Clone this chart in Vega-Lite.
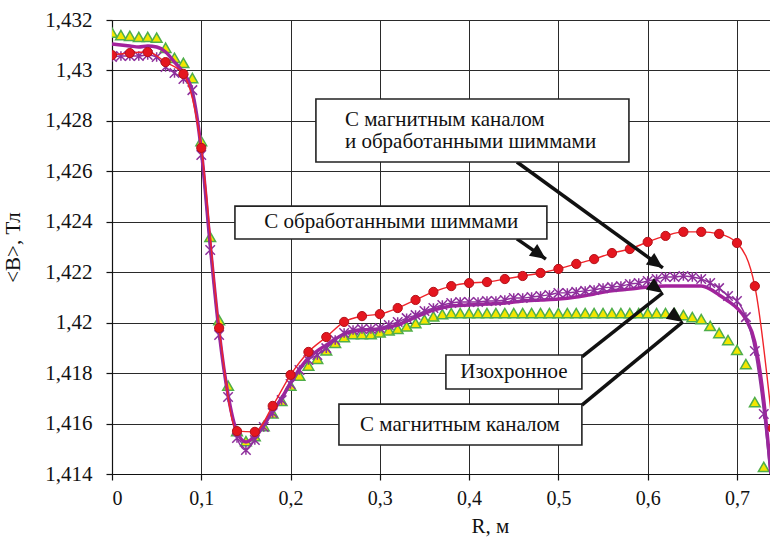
{
  "$schema": "https://vega.github.io/schema/vega-lite/v6.json",
  "autosize": {"type": "none"},
  "padding": {"left": 112, "top": 20, "right": 0, "bottom": 68},
  "width": 658,
  "height": 454,
  "background": "white",
  "config": {
    "view": {"stroke": null},
    "font": "Liberation Serif",
    "axis": {
      "labelFont": "Liberation Serif",
      "titleFont": "Liberation Serif",
      "labelFontSize": 21,
      "titleFontSize": 21,
      "titleFontWeight": "normal",
      "labelColor": "#111",
      "titleColor": "#111",
      "grid": true,
      "gridColor": "#2a2a2a",
      "gridWidth": 1,
      "domainColor": "#111",
      "domainWidth": 1.2,
      "tickColor": "#111",
      "tickSize": 6,
      "tickWidth": 1.2
    }
  },
  "datasets": {
    "shims": [
      {"r": 0.00, "b": 1.43061}, {"r": 0.02, "b": 1.43069}, {"r": 0.04, "b": 1.43073},
      {"r": 0.06, "b": 1.43033}, {"r": 0.08, "b": 1.42986}, {"r": 0.10, "b": 1.42693},
      {"r": 0.12, "b": 1.41979}, {"r": 0.14, "b": 1.41570}, {"r": 0.16, "b": 1.41567},
      {"r": 0.18, "b": 1.41670}, {"r": 0.20, "b": 1.41793}, {"r": 0.22, "b": 1.41884},
      {"r": 0.24, "b": 1.41943}, {"r": 0.26, "b": 1.42003}, {"r": 0.28, "b": 1.42026},
      {"r": 0.30, "b": 1.42034}, {"r": 0.32, "b": 1.42058}, {"r": 0.34, "b": 1.42090},
      {"r": 0.36, "b": 1.42122}, {"r": 0.38, "b": 1.42145}, {"r": 0.40, "b": 1.42157},
      {"r": 0.42, "b": 1.42161}, {"r": 0.44, "b": 1.42173}, {"r": 0.46, "b": 1.42185},
      {"r": 0.48, "b": 1.42197}, {"r": 0.50, "b": 1.42213}, {"r": 0.52, "b": 1.42233},
      {"r": 0.54, "b": 1.42252}, {"r": 0.56, "b": 1.42276}, {"r": 0.58, "b": 1.42292},
      {"r": 0.60, "b": 1.42320}, {"r": 0.62, "b": 1.42344}, {"r": 0.64, "b": 1.42360},
      {"r": 0.66, "b": 1.42360}, {"r": 0.68, "b": 1.42352}, {"r": 0.70, "b": 1.42316},
      {"r": 0.72, "b": 1.42145}, {"r": 0.74, "b": 1.41582}
    ],
    "channel": [
      {"r": 0.00, "b": 1.43150}, {"r": 0.01, "b": 1.43140}, {"r": 0.02, "b": 1.43137},
      {"r": 0.03, "b": 1.43133}, {"r": 0.04, "b": 1.43133}, {"r": 0.05, "b": 1.43130},
      {"r": 0.06, "b": 1.43090}, {"r": 0.07, "b": 1.43050}, {"r": 0.08, "b": 1.43030},
      {"r": 0.09, "b": 1.42970}, {"r": 0.10, "b": 1.42720}, {"r": 0.11, "b": 1.42340},
      {"r": 0.12, "b": 1.42010}, {"r": 0.13, "b": 1.41750}, {"r": 0.14, "b": 1.41570},
      {"r": 0.15, "b": 1.41530}, {"r": 0.16, "b": 1.41550}, {"r": 0.17, "b": 1.41590},
      {"r": 0.18, "b": 1.41640}, {"r": 0.19, "b": 1.41690}, {"r": 0.20, "b": 1.41750},
      {"r": 0.21, "b": 1.41790}, {"r": 0.22, "b": 1.41830}, {"r": 0.23, "b": 1.41857},
      {"r": 0.24, "b": 1.41890}, {"r": 0.25, "b": 1.41920}, {"r": 0.26, "b": 1.41943},
      {"r": 0.27, "b": 1.41955}, {"r": 0.28, "b": 1.41955}, {"r": 0.29, "b": 1.41955},
      {"r": 0.30, "b": 1.41962}, {"r": 0.31, "b": 1.41970}, {"r": 0.32, "b": 1.41975},
      {"r": 0.33, "b": 1.41985}, {"r": 0.34, "b": 1.41998}, {"r": 0.35, "b": 1.42012},
      {"r": 0.36, "b": 1.42025}, {"r": 0.37, "b": 1.42034}, {"r": 0.38, "b": 1.42038},
      {"r": 0.39, "b": 1.42038}, {"r": 0.40, "b": 1.42038}, {"r": 0.41, "b": 1.42038},
      {"r": 0.42, "b": 1.42038}, {"r": 0.43, "b": 1.42038}, {"r": 0.44, "b": 1.42038},
      {"r": 0.45, "b": 1.42038}, {"r": 0.46, "b": 1.42038}, {"r": 0.47, "b": 1.42038},
      {"r": 0.48, "b": 1.42038}, {"r": 0.49, "b": 1.42038}, {"r": 0.50, "b": 1.42038},
      {"r": 0.51, "b": 1.42038}, {"r": 0.52, "b": 1.42038}, {"r": 0.53, "b": 1.42038},
      {"r": 0.54, "b": 1.42038}, {"r": 0.55, "b": 1.42038}, {"r": 0.56, "b": 1.42038},
      {"r": 0.57, "b": 1.42038}, {"r": 0.58, "b": 1.42038}, {"r": 0.59, "b": 1.42038},
      {"r": 0.60, "b": 1.42038}, {"r": 0.61, "b": 1.42038}, {"r": 0.62, "b": 1.42038},
      {"r": 0.63, "b": 1.42038}, {"r": 0.64, "b": 1.42030}, {"r": 0.65, "b": 1.42022},
      {"r": 0.66, "b": 1.42014}, {"r": 0.67, "b": 1.41987}, {"r": 0.68, "b": 1.41959},
      {"r": 0.69, "b": 1.41931}, {"r": 0.70, "b": 1.41892}, {"r": 0.71, "b": 1.41836},
      {"r": 0.72, "b": 1.41685}, {"r": 0.73, "b": 1.41428}
    ],
    "both": [
      {"r": 0.00, "b": 1.43053}, {"r": 0.01, "b": 1.43057}, {"r": 0.02, "b": 1.43057},
      {"r": 0.03, "b": 1.43057}, {"r": 0.04, "b": 1.43061}, {"r": 0.05, "b": 1.43053},
      {"r": 0.06, "b": 1.43014}, {"r": 0.07, "b": 1.42990}, {"r": 0.08, "b": 1.42966},
      {"r": 0.09, "b": 1.42922}, {"r": 0.10, "b": 1.42665}, {"r": 0.11, "b": 1.42288},
      {"r": 0.12, "b": 1.41951}, {"r": 0.13, "b": 1.41705}, {"r": 0.14, "b": 1.41543},
      {"r": 0.15, "b": 1.41495}, {"r": 0.16, "b": 1.41535}, {"r": 0.17, "b": 1.41586},
      {"r": 0.18, "b": 1.41642}, {"r": 0.19, "b": 1.41693}, {"r": 0.20, "b": 1.41757},
      {"r": 0.21, "b": 1.41812}, {"r": 0.22, "b": 1.41852}, {"r": 0.23, "b": 1.41872},
      {"r": 0.24, "b": 1.41899}, {"r": 0.25, "b": 1.41931}, {"r": 0.26, "b": 1.41959},
      {"r": 0.27, "b": 1.41971}, {"r": 0.28, "b": 1.41975}, {"r": 0.29, "b": 1.41975},
      {"r": 0.30, "b": 1.41979}, {"r": 0.31, "b": 1.41991}, {"r": 0.32, "b": 1.42003},
      {"r": 0.33, "b": 1.42018}, {"r": 0.34, "b": 1.42030}, {"r": 0.35, "b": 1.42046},
      {"r": 0.36, "b": 1.42058}, {"r": 0.37, "b": 1.42070}, {"r": 0.38, "b": 1.42078},
      {"r": 0.39, "b": 1.42082}, {"r": 0.40, "b": 1.42082}, {"r": 0.41, "b": 1.42082},
      {"r": 0.42, "b": 1.42086}, {"r": 0.43, "b": 1.42086}, {"r": 0.44, "b": 1.42090},
      {"r": 0.45, "b": 1.42098}, {"r": 0.46, "b": 1.42098}, {"r": 0.47, "b": 1.42102},
      {"r": 0.48, "b": 1.42106}, {"r": 0.49, "b": 1.42110}, {"r": 0.50, "b": 1.42118},
      {"r": 0.51, "b": 1.42118}, {"r": 0.52, "b": 1.42122}, {"r": 0.53, "b": 1.42126},
      {"r": 0.54, "b": 1.42130}, {"r": 0.55, "b": 1.42137}, {"r": 0.56, "b": 1.42141},
      {"r": 0.57, "b": 1.42145}, {"r": 0.58, "b": 1.42153}, {"r": 0.59, "b": 1.42157},
      {"r": 0.60, "b": 1.42165}, {"r": 0.61, "b": 1.42173}, {"r": 0.62, "b": 1.42181},
      {"r": 0.63, "b": 1.42181}, {"r": 0.64, "b": 1.42185}, {"r": 0.65, "b": 1.42181},
      {"r": 0.66, "b": 1.42173}, {"r": 0.67, "b": 1.42157}, {"r": 0.68, "b": 1.42137},
      {"r": 0.69, "b": 1.42106}, {"r": 0.70, "b": 1.42086}, {"r": 0.71, "b": 1.42022},
      {"r": 0.72, "b": 1.41888}, {"r": 0.73, "b": 1.41638}, {"r": 0.74, "b": 1.41297}
    ],
    "isochronous": [
      {"r": 0.00, "b": 1.43105}, {"r": 0.01, "b": 1.43101}, {"r": 0.02, "b": 1.43097},
      {"r": 0.03, "b": 1.43093}, {"r": 0.04, "b": 1.43097}, {"r": 0.05, "b": 1.43093},
      {"r": 0.06, "b": 1.43073}, {"r": 0.07, "b": 1.43033}, {"r": 0.08, "b": 1.42990},
      {"r": 0.09, "b": 1.42915}, {"r": 0.10, "b": 1.42685}, {"r": 0.11, "b": 1.42308},
      {"r": 0.12, "b": 1.41963}, {"r": 0.13, "b": 1.41713}, {"r": 0.14, "b": 1.41567},
      {"r": 0.15, "b": 1.41527}, {"r": 0.16, "b": 1.41550}, {"r": 0.17, "b": 1.41598},
      {"r": 0.18, "b": 1.41650}, {"r": 0.19, "b": 1.41701}, {"r": 0.20, "b": 1.41761},
      {"r": 0.21, "b": 1.41816}, {"r": 0.22, "b": 1.41860}, {"r": 0.23, "b": 1.41888},
      {"r": 0.24, "b": 1.41911}, {"r": 0.25, "b": 1.41935}, {"r": 0.26, "b": 1.41955},
      {"r": 0.27, "b": 1.41967}, {"r": 0.28, "b": 1.41971}, {"r": 0.30, "b": 1.41975},
      {"r": 0.32, "b": 1.41991}, {"r": 0.34, "b": 1.42022}, {"r": 0.36, "b": 1.42050},
      {"r": 0.38, "b": 1.42066}, {"r": 0.40, "b": 1.42070}, {"r": 0.42, "b": 1.42074},
      {"r": 0.44, "b": 1.42078}, {"r": 0.46, "b": 1.42086}, {"r": 0.48, "b": 1.42090},
      {"r": 0.50, "b": 1.42094}, {"r": 0.52, "b": 1.42102}, {"r": 0.54, "b": 1.42114},
      {"r": 0.56, "b": 1.42126}, {"r": 0.58, "b": 1.42133}, {"r": 0.60, "b": 1.42141},
      {"r": 0.62, "b": 1.42145}, {"r": 0.64, "b": 1.42145}, {"r": 0.66, "b": 1.42145},
      {"r": 0.67, "b": 1.42133}, {"r": 0.68, "b": 1.42110}, {"r": 0.69, "b": 1.42086},
      {"r": 0.70, "b": 1.42058}, {"r": 0.71, "b": 1.42014}, {"r": 0.72, "b": 1.41923},
      {"r": 0.73, "b": 1.41693}, {"r": 0.74, "b": 1.41317}
    ],
    "boxes": [
      {"id": "both", "x1": 0.2284, "x2": 0.5790, "y1": 1.42887, "y2": 1.42637},
      {"id": "shims", "x1": 0.1377, "x2": 0.4871, "y1": 1.42462, "y2": 1.42332},
      {"id": "iso", "x1": 0.3740, "x2": 0.5263, "y1": 1.41872, "y2": 1.41737},
      {"id": "channel", "x1": 0.2542, "x2": 0.5263, "y1": 1.41677, "y2": 1.41515}
    ],
    "stackedCaption": [
      {"x": 0.2609, "y": 1.42804, "text": "С магнитным каналом"},
      {"x": 0.2609, "y": 1.42716, "text": "и обработанными шиммами"}
    ],
    "captions": [
      {"x": 0.3127, "y": 1.42399, "text": "С обработанными шиммами"},
      {"x": 0.4502, "y": 1.41804, "text": "Изохронное"},
      {"x": 0.3897, "y": 1.41594, "text": "С магнитным каналом"}
    ],
    "arrows": [
      {"id": "a1", "x1": 0.4535, "y1": 1.42637, "x2": 0.6170, "y2": 1.42217},
      {"id": "a2", "x1": 0.4535, "y1": 1.42332, "x2": 0.4860, "y2": 1.42252},
      {"id": "a3", "x1": 0.5263, "y1": 1.41864, "x2": 0.6170, "y2": 1.42118},
      {"id": "a4", "x1": 0.5263, "y1": 1.41673, "x2": 0.6394, "y2": 1.42003}
    ]
  },
  "encoding": {
    "x": {
      "field": "r", "type": "quantitative",
      "scale": {"domain": [0, 0.737], "nice": false, "zero": false},
      "axis": {
        "title": "R, м",
        "values": [0, 0.1, 0.2, 0.3, 0.4, 0.5, 0.6, 0.7],
        "labelExpr": "replace(format(datum.value, '.2~r'), '.', ',')",
        "labelFontSize": 20,
        "labelPadding": 8,
        "titlePadding": 7,
        "titleX": 378
      }
    },
    "y": {
      "field": "b", "type": "quantitative",
      "scale": {"domain": [1.414, 1.432], "nice": false, "zero": false},
      "axis": {
        "title": "<B>, Тл",
        "values": [1.414, 1.416, 1.418, 1.42, 1.422, 1.424, 1.426, 1.428, 1.43, 1.432],
        "labelExpr": "replace(format(datum.value, '.4~r'), '.', ',')",
        "labelPadding": 14,
        "titlePadding": 21
      }
    }
  },
  "layer": [
    {
      "data": {"name": "channel"},
      "mark": {"type": "point", "shape": "triangle-up", "filled": true, "size": 115, "fill": "#f3e600", "stroke": "#4fae4a", "strokeWidth": 1.5, "opacity": 1, "clip": true}
    },
    {
      "data": {"name": "isochronous"},
      "mark": {"type": "line", "interpolate": "monotone", "stroke": "#a3229c", "strokeWidth": 3.5, "clip": true}
    },
    {
      "data": {"name": "both"},
      "mark": {"type": "line", "interpolate": "monotone", "stroke": "#8e2f9c", "strokeWidth": 1.4, "clip": true}
    },
    {
      "data": {"name": "both"},
      "mark": {"type": "point", "shape": "M-1,-1L1,1M-1,1L1,-1M0,-1L0,1", "filled": false, "size": 90, "stroke": "#8e2f9c", "strokeWidth": 1.5, "opacity": 1, "clip": true}
    },
    {
      "data": {"name": "shims"},
      "mark": {"type": "line", "interpolate": "monotone", "stroke": "#f0242a", "strokeWidth": 1.4, "clip": true}
    },
    {
      "data": {"name": "shims"},
      "mark": {"type": "point", "shape": "circle", "filled": true, "size": 85, "fill": "#e5161f", "stroke": "#b3121a", "strokeWidth": 1, "opacity": 1, "clip": true}
    },
    {
      "data": {"name": "arrows"},
      "mark": {"type": "rule", "stroke": "#111", "strokeWidth": 3.5},
      "encoding": {
        "x": {"field": "x1", "type": "quantitative"},
        "y": {"field": "y1", "type": "quantitative"},
        "x2": {"field": "x2"},
        "y2": {"field": "y2"}
      }
    },
    {
      "data": {"name": "arrows"},
      "mark": {"type": "point", "shape": "M0,0L0.45,1L-0.45,1Z", "filled": true, "size": 1000, "fill": "#111", "stroke": null, "opacity": 1},
      "encoding": {
        "x": {"field": "x2", "type": "quantitative"},
        "y": {"field": "y2", "type": "quantitative"},
        "angle": {"field": "id", "type": "nominal", "scale": {"domain": ["a1", "a2", "a3", "a4"], "range": [126, 125, 52, 51]}, "legend": null}
      }
    },
    {
      "data": {"name": "boxes"},
      "mark": {"type": "rect", "fill": "white", "stroke": "#222", "strokeWidth": 1.6},
      "encoding": {
        "x": {"field": "x1", "type": "quantitative"},
        "x2": {"field": "x2"},
        "y": {"field": "y1", "type": "quantitative"},
        "y2": {"field": "y2"}
      }
    },
    {
      "data": {"name": "stackedCaption"},
      "mark": {"type": "text", "font": "Liberation Serif", "fontSize": 21, "color": "#111", "baseline": "middle", "align": "left"},
      "encoding": {
        "x": {"field": "x", "type": "quantitative"},
        "y": {"field": "y", "type": "quantitative"},
        "text": {"field": "text"}
      }
    },
    {
      "data": {"name": "captions"},
      "mark": {"type": "text", "font": "Liberation Serif", "fontSize": 21, "color": "#111", "baseline": "middle", "align": "center"},
      "encoding": {
        "x": {"field": "x", "type": "quantitative"},
        "y": {"field": "y", "type": "quantitative"},
        "text": {"field": "text"}
      }
    }
  ]
}
